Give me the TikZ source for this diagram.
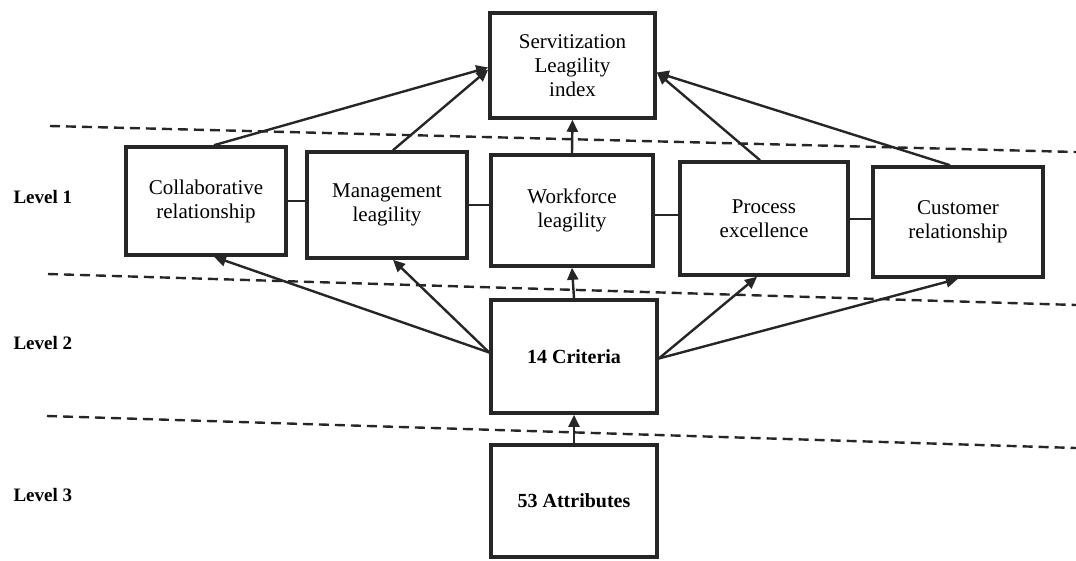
\documentclass[tikz,border=0pt]{standalone}
\usepackage{fontspec}
\setmainfont{Liberation Serif}
\usetikzlibrary{arrows.meta}
\begin{document}
\begin{tikzpicture}[x=1pt,y=-1pt,
  box/.style={draw=black!85, line width=3.6pt, fill=white, align=center,
    inner sep=2pt, font=\fontsize{21}{24}\selectfont},
  boldbox/.style={box, font=\bfseries\fontsize{20}{24}\selectfont},
  link/.style={draw=black!85, line width=2pt},
  arr/.style={draw=black!85, line width=2.4pt, -{Triangle[length=12pt,width=11pt]}},
  levelline/.style={draw=black!85, line width=2.4pt, dash pattern=on 10pt off 6pt},
  levellabel/.style={anchor=west, font=\bfseries\fontsize{19}{22}\selectfont}]
\useasboundingbox (0,0) rectangle (1076,560);
% level separators
\draw[levelline] (50,126) -- (1076,152);
\draw[levelline] (48,274) -- (1076,305);
\draw[levelline] (47,416) -- (1076,448);
% level labels
\node[levellabel] (l1) at (10,197) {Level 1};
\node[levellabel] (l2) at (10,343) {Level 2};
\node[levellabel] (l3) at (10,495) {Level 3};
% nodes
\node[box, minimum width=165pt, minimum height=105pt] (top) at (572.5,65.5) {Servitization\\Leagility\\index};
\node[box, minimum width=160pt, minimum height=108pt] (col) at (206,201) {Collaborative\\relationship};
\node[box, minimum width=160pt, minimum height=106pt] (man) at (387,205) {Management\\leagility};
\node[box, minimum width=162pt, minimum height=111pt] (wor) at (572,210.5) {Workforce\\leagility};
\node[box, minimum width=168pt, minimum height=113pt] (pro) at (764,218.5) {Process\\excellence};
\node[box, minimum width=170pt, minimum height=110pt] (cus) at (958,222) {Customer\\relationship};
\node[boldbox, minimum width=166pt, minimum height=113pt] (cri) at (574,356.5) {14 Criteria};
\node[boldbox, minimum width=166pt, minimum height=112pt] (att) at (574,501) {53 Attributes};
% horizontal links
\draw[link] (col.east) -- (col.east -| man.west);
\draw[link] (man.east) -- (man.east -| wor.west);
\draw[link] ([yshift=-4pt]wor.east) -- ([yshift=-4pt]wor.east -| pro.west);
\draw[link] (pro.east) -- (pro.east -| cus.west);
% arrows to index
\draw[arr] ([xshift=8pt]col.north) -- ([yshift=-2pt]top.west);
\draw[arr] ([xshift=6pt]man.north) -- ([yshift=-4pt]top.west);
\draw[arr] (wor.north) -- (top.south);
\draw[arr] ([xshift=-4pt]pro.north) -- ([yshift=-7pt]top.east);
\draw[arr] ([xshift=-8pt]cus.north) -- ([yshift=-7pt]top.east);
% arrows from criteria
\draw[arr] ([yshift=4pt]cri.west) -- ([xshift=8pt]col.south);
\draw[arr] ([yshift=4pt]cri.west) -- ([xshift=6pt]man.south);
\draw[arr] (cri.north) -- (wor.south);
\draw[arr] ([yshift=-2pt]cri.east) -- ([xshift=-7pt]pro.south);
\draw[arr] ([yshift=-2pt]cri.east) -- (cus.south);
\draw[arr] (att.north) -- (cri.south);
\end{tikzpicture}
\end{document}
